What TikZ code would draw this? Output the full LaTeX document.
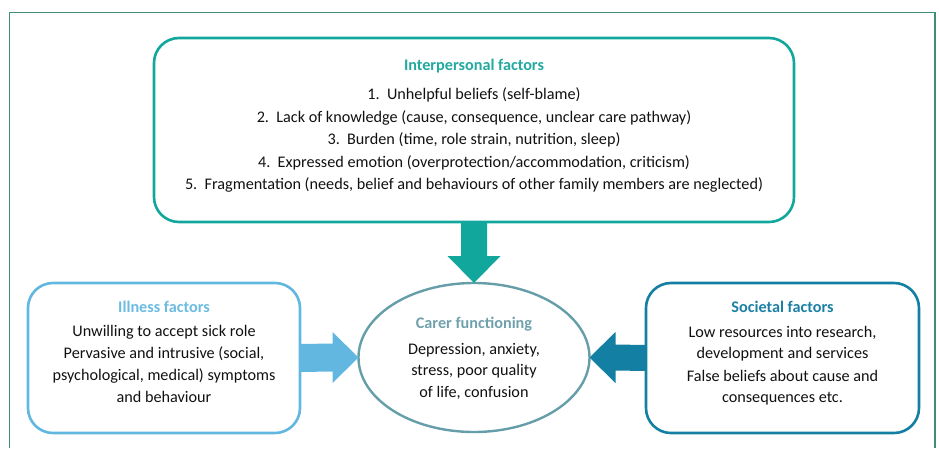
\documentclass[tikz,border=0pt]{standalone}
\usepackage{fontspec}
\setmainfont{Carlito}
\usetikzlibrary{calc,shapes.geometric}
\definecolor{framec}{HTML}{3E8D74}
\definecolor{tealc}{HTML}{12A79C}
\definecolor{tealt}{HTML}{22A9A0}
\definecolor{illc}{HTML}{62B7E0}
\definecolor{illt}{HTML}{6BBCE0}
\definecolor{socc}{HTML}{137FA2}
\definecolor{soct}{HTML}{1C80A5}
\definecolor{carc}{HTML}{659EA9}
\definecolor{cart}{HTML}{6FA1AC}
\definecolor{txt}{HTML}{111111}
\newcommand\bodyfnt{\fontsize{16.2}{22}\selectfont}
\begin{document}
\begin{tikzpicture}[x=1pt,y=-1pt,
  boxshape/.style={draw,rounded corners=25pt,line width=2.6pt,minimum width=#1,inner sep=0pt,outer sep=0pt},
  tline/.style={inner sep=0pt,outer sep=0pt,text height=11pt,text depth=4pt,font=\bodyfnt,text=txt},
  ttitle/.style={tline,font=\bodyfnt\bfseries},
  framec line/.style={draw=framec,line width=1.4pt}]
\useasboundingbox (0,0) rectangle (939,448);
% outer frame
\draw[framec line] (9.5,448) -- (9.5,12.5) -- (935,12.5) -- (935,448);
% boxes
\node[boxshape=640pt,draw=tealc,minimum height=184pt] (top) at (474,130) {};
\node[boxshape=272pt,draw=illc,minimum height=150pt] (ill) at (164,358) {};
\node[boxshape=273pt,draw=socc,minimum height=150pt] (soc) at (782.5,358) {};
\node[draw=carc,ellipse,line width=2.4pt,minimum width=231pt,minimum height=149pt,inner sep=0pt,outer sep=0pt] (car) at (474,357.5) {};
% top texts
\node[ttitle,text=tealt] (tt) at (474,67) {Interpersonal factors};
\node[tline] (t1) at (474,96) {1.\ \ Unhelpful beliefs (self-blame)};
\node[tline] (t2) at (474,118.5) {2.\ \ Lack of knowledge (cause, consequence, unclear care pathway)};
\node[tline] (t3) at (474,141) {3.\ \ Burden (time, role strain, nutrition, sleep)};
\node[tline] (t4) at (474,163.5) {4.\ \ Expressed emotion (overprotection/accommodation, criticism)};
\node[tline] (t5) at (474,186) {5.\ \ Fragmentation (needs, belief and behaviours of other family members are neglected)};
% illness texts
\node[ttitle,text=illt] (it) at (164,309) {Illness factors};
\node[tline] (i1) at (164,333) {Unwilling to accept sick role};
\node[tline] (i2) at (164,355) {Pervasive and intrusive (social,};
\node[tline] (i3) at (164,377) {psychological, medical) symptoms};
\node[tline] (i4) at (164,399) {and behaviour};
% societal texts
\node[ttitle,text=soct] (st) at (782.5,309) {Societal factors};
\node[tline] (s1) at (782.5,334) {Low resources into research,};
\node[tline] (s2) at (782.5,355) {development and services};
\node[tline] (s3) at (782.5,378) {False beliefs about cause and};
\node[tline] (s4) at (782.5,399) {consequences etc.};
% carer texts
\node[ttitle,text=cart] (ct) at (474,325) {Carer functioning};
\node[tline] (c1) at (474,351) {Depression, anxiety,};
\node[tline] (c2) at (474,372) {stress, poor quality};
\node[tline] (c3) at (474,393.5) {of life, confusion};
% block arrows
\fill[tealc] ($(top.south)+(-13,0)$) -- ($(car.north)+(-13,-27)$) -- ($(car.north)+(-26.5,-27)$) -- (car.north)
  -- ($(car.north)+(26.5,-27)$) -- ($(car.north)+(13,-27)$) -- ($(top.south)+(13,0)$) -- cycle;
\fill[illc] ($(ill.east)+(0,-14)$) -- ($(car.west)+(-26,-14)$) -- ($(car.west)+(-26,-25.5)$) -- (car.west)
  -- ($(car.west)+(-26,25.5)$) -- ($(car.west)+(-26,14)$) -- ($(ill.east)+(0,14)$) -- cycle;
\fill[socc] ($(soc.west)+(0,-13)$) -- ($(car.east)+(26,-13)$) -- ($(car.east)+(26,-25.5)$) -- (car.east)
  -- ($(car.east)+(26,25.5)$) -- ($(car.east)+(26,13)$) -- ($(soc.west)+(0,13)$) -- cycle;
\end{tikzpicture}
\end{document}
